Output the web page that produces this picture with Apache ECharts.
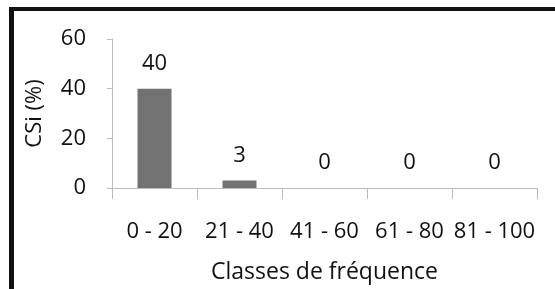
<!DOCTYPE html>
<html>
<head>
<meta charset="utf-8">
<script src="https://cdn.jsdelivr.net/npm/echarts@6/dist/echarts.min.js"></script>
<style>
  html, body { margin: 0; padding: 0; background: #fff; }
  #chart { width: 555px; height: 289px; }
</style>
</head>
<body>
<div id="chart"></div>
<script>
const categories = ["0 - 20", "21 - 40", "41 - 60", "61 - 80", "81 - 100"];
const values = [40, 3, 0, 0, 0];
const yTicks = [0, 20, 40, 60];

const font = "Open Sans";
const chart = echarts.init(document.getElementById("chart"));

const option = {
  animation: false,
  grid: { left: 112, right: 18, top: 39, bottom: 98 },
  graphic: [
    { type: "rect", shape: { x: 9, y: 7, width: 5, height: 282 }, style: { fill: "#111" } },
    { type: "rect", shape: { x: 9, y: 7, width: 546, height: 4 }, style: { fill: "#111" } }
  ],
  xAxis: {
    type: "category",
    data: categories,
    name: "Classes de fréquence",
    nameLocation: "middle",
    nameGap: 73,
    nameTextStyle: { fontFamily: font, fontSize: 23, color: "#111" },
    axisLine: { lineStyle: { color: "#bbb" } },
    axisTick: { show: true, length: 11, lineStyle: { color: "#bbb" } },
    axisLabel: { fontFamily: font, fontSize: 22, color: "#111", margin: 33, interval: 0 }
  },
  yAxis: {
    type: "value",
    min: yTicks[0],
    max: yTicks[yTicks.length - 1],
    interval: 20,
    name: "CSi (%)",
    nameLocation: "middle",
    nameGap: 66,
    nameTextStyle: { fontFamily: font, fontSize: 22, color: "#111" },
    splitLine: { show: false },
    axisLine: { show: true, lineStyle: { color: "#bbb" } },
    axisTick: { show: true, length: 5, lineStyle: { color: "#bbb" } },
    axisLabel: { fontFamily: font, fontSize: 22, color: "#111", margin: 26 }
  },
  series: [{
    type: "bar",
    barWidth: 34,
    data: values,
    itemStyle: { color: "#727272" },
    label: {
      show: true,
      position: "top",
      distance: 14,
      fontFamily: font,
      fontSize: 22,
      color: "#111"
    }
  }]
};

chart.setOption(option);
</script>
</body>
</html>
